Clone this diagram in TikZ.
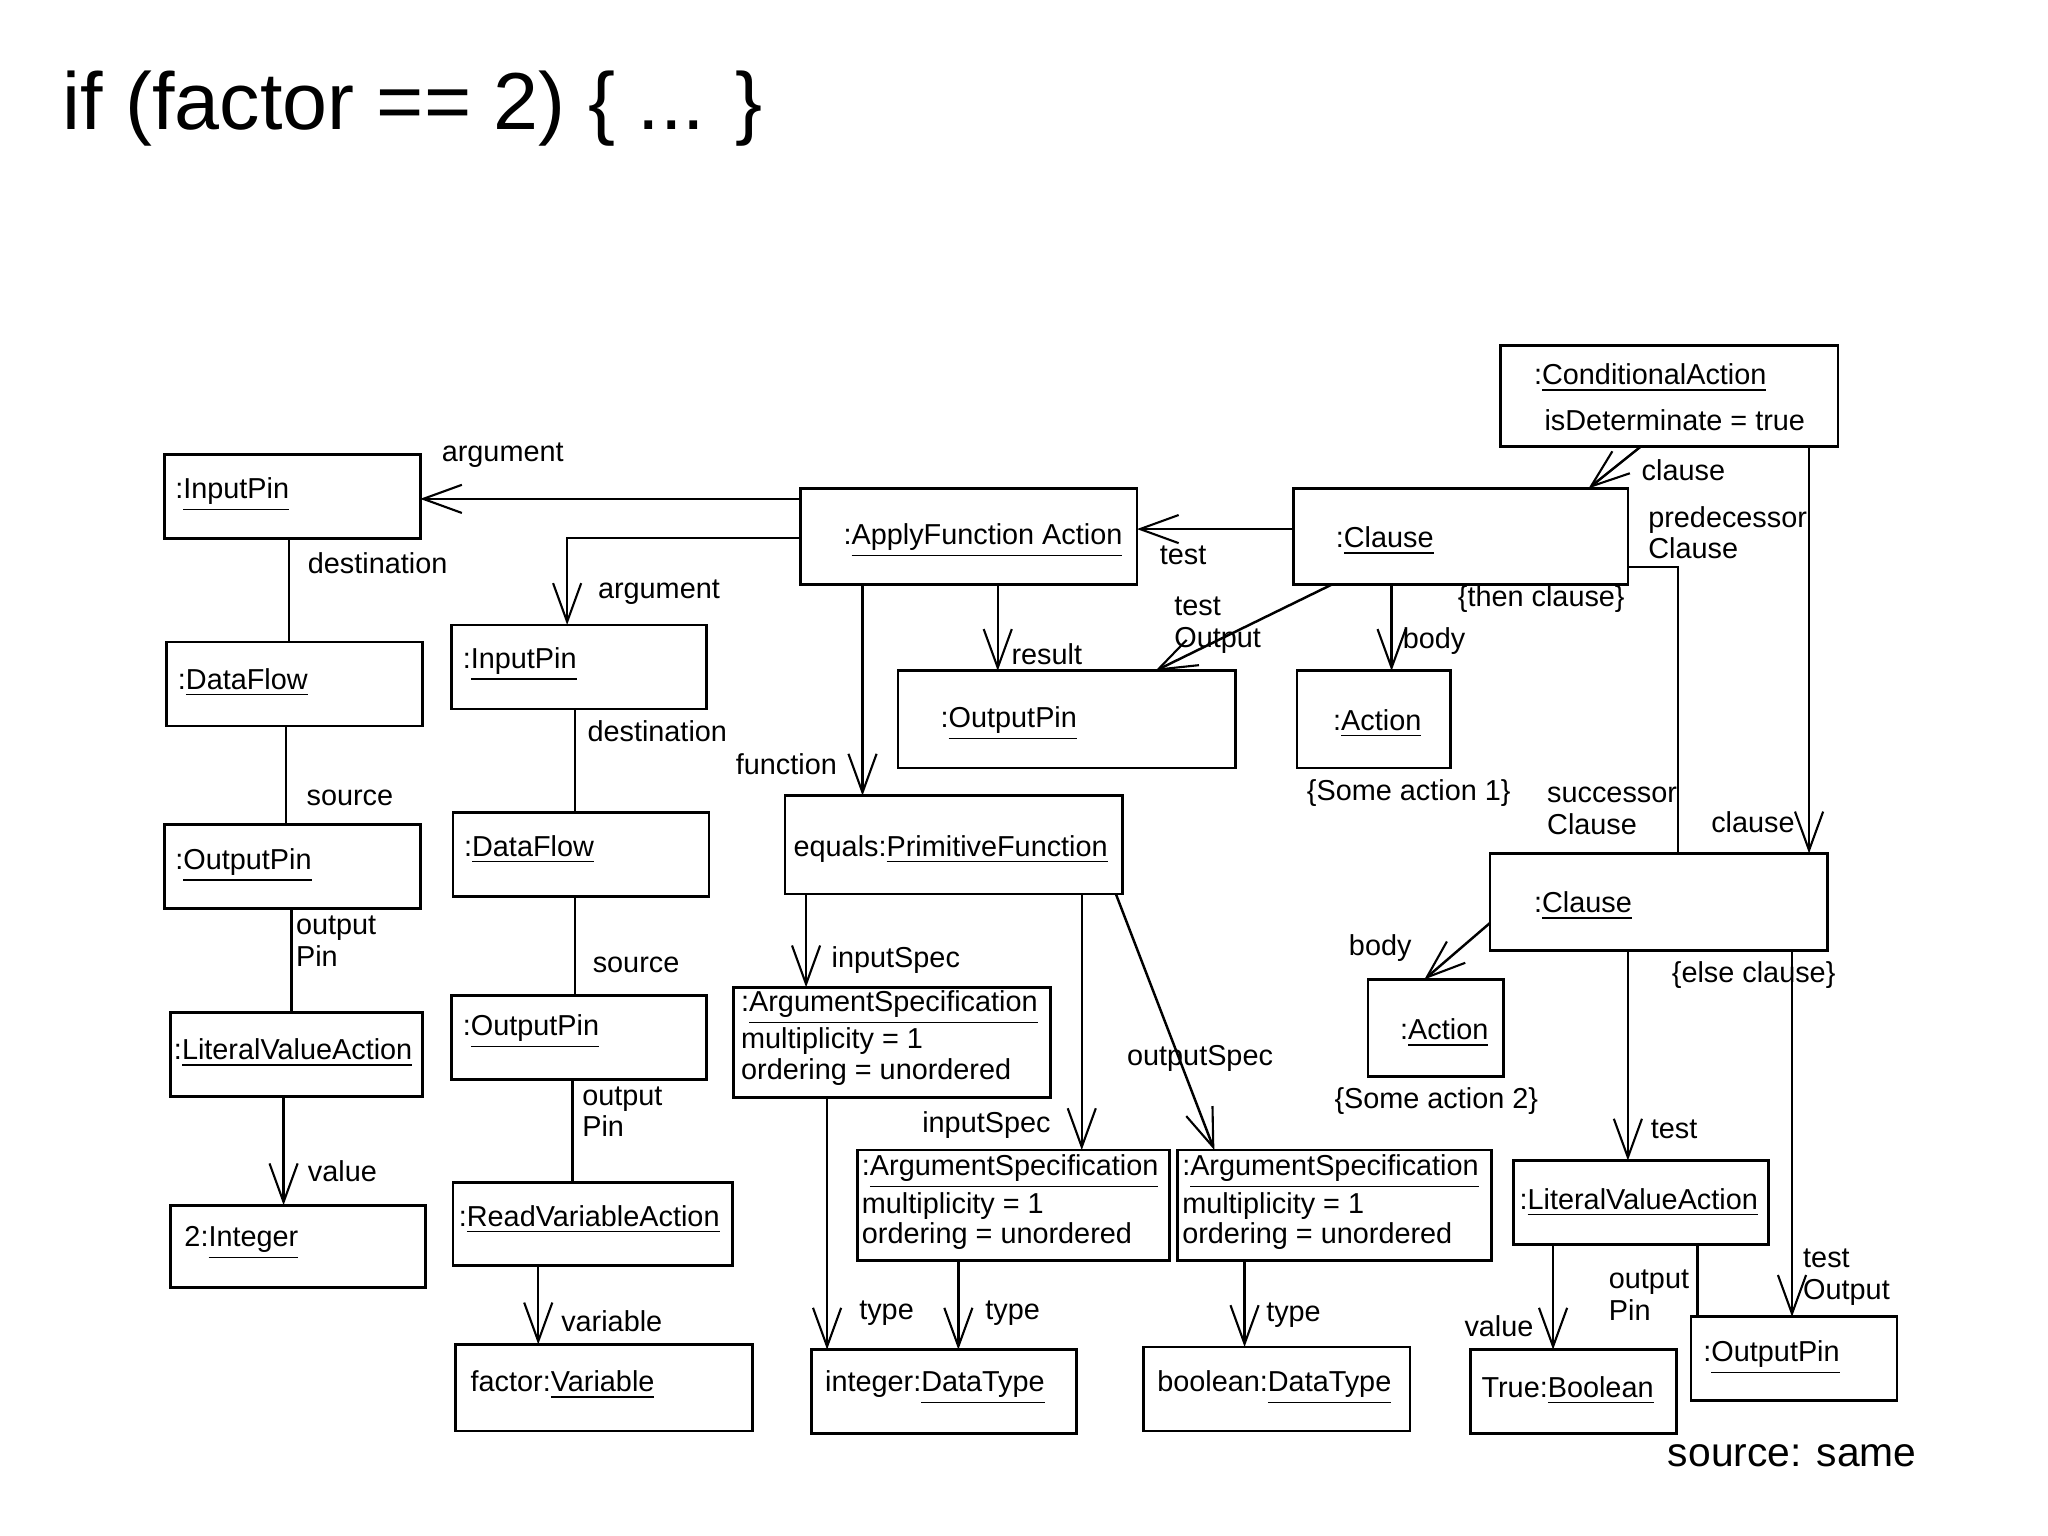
\documentclass[tikz,border=0pt]{standalone}
\usepackage{fontspec}
\setmainfont{Liberation Sans}
\usetikzlibrary{arrows.meta}
\newcommand{\ul}[1]{\underline{#1}}
\begin{document}
\begin{tikzpicture}[x=0.013128cm,y=-0.013128cm,
  box/.style 2 args={draw,line width=0.8pt,anchor=north west,inner sep=0,outer sep=0,
     minimum width=#1*0.013128cm,minimum height=#2*0.013128cm},
  txt/.style={anchor=west,inner sep=0,font=\fontsize{8.2}{9}\selectfont},
  lbl/.style={anchor=west,inner sep=0,font=\fontsize{8.2}{9}\selectfont,align=left},
  ml/.style={anchor=north west,inner sep=0,font=\fontsize{8.2}{8.6}\selectfont,align=left},
  ln/.style={line width=0.7pt},
  ar/.style={line width=0.7pt,-{Straight Barb[length=11pt,width=8pt,line width=0.6pt]}}]
\useasboundingbox (0,0) rectangle (1560,1170);
\node[anchor=west,inner sep=0,font=\fontsize{23}{26}\selectfont] (title) at (47,83) {if (factor == 2) \{ ... \}};
\node[anchor=west,inner sep=0,font=\fontsize{11.6}{13}\selectfont] (src) at (1270,1109) {source: same};
% boxes
\node[box={257}{77}] (cond) at (1143,263) {};
\node[txt] at (1168,288) {:\ul{ConditionalAction}};
\node[txt] at (1176,320) {isDeterminate = true};
\node[box={195}{64}] (ip1) at (125,346) {};
\node[txt] at (133,377) {:\ul{InputPin}};
\node[box={256}{73}] (apply) at (610,372) {};
\node[txt] at (642,412) {:\ul{ApplyFunction Action}};
\node[box={255}{73}] (cl1) at (985,372) {};
\node[txt] at (1017,412) {:\ul{Clause}};
\node[box={195}{64}] (df1) at (127,489) {};
\node[txt] at (135,520) {:\ul{DataFlow}};
\node[box={194}{64}] (ip2) at (344,476) {};
\node[txt] at (352,506) {:\ul{InputPin}};
\node[box={257}{74}] (opr) at (684,511) {};
\node[txt] at (716,551) {:\ul{OutputPin}};
\node[box={117}{74}] (act1) at (988,511) {};
\node[txt] at (1015,551) {:\ul{Action}};
\node[box={195}{64}] (op1) at (125,628) {};
\node[txt] at (133,659) {:\ul{OutputPin}};
\node[box={195}{64}] (df2) at (345,619) {};
\node[txt] at (353,647) {:\ul{DataFlow}};
\node[box={257}{75}] (eq) at (598,606) {};
\node[txt] at (604,647) {equals:\ul{PrimitiveFunction}};
\node[box={257}{74}] (cl2) at (1135,650) {};
\node[txt] at (1168,690) {:\ul{Clause}};
\node[box={192}{64}] (lva1) at (130,771) {};
\node[txt] at (132,802) {:\ul{LiteralValueAction}};
\node[box={194}{64}] (op2) at (344,758) {};
\node[txt] at (352,786) {:\ul{OutputPin}};
\node[box={241}{84}] (as1) at (559,752) {};
\node[ml] at (564,754) {:\ul{ArgumentSpecification}\\multiplicity = 1\\ordering = unordered};
\node[box={103}{74}] (act2) at (1042,746) {};
\node[txt] at (1066,787) {:\ul{Action}};
\node[box={238}{84}] (as2) at (653,876) {};
\node[ml] at (656,879) {:\ul{ArgumentSpecification}\\multiplicity = 1\\ordering = unordered};
\node[box={239}{84}] (as3) at (897,876) {};
\node[ml] at (900,879) {:\ul{ArgumentSpecification}\\multiplicity = 1\\ordering = unordered};
\node[box={194}{64}] (lva2) at (1153,884) {};
\node[txt] at (1157,916) {:\ul{LiteralValueAction}};
\node[box={194}{63}] (int) at (130,918) {};
\node[txt] at (140,947) {2:\ul{Integer}};
\node[box={213}{63}] (rva) at (345,901) {};
\node[txt] at (349,929) {:\ul{ReadVariableAction}};
\node[box={226}{66}] (var) at (347,1024) {};
\node[txt] at (358,1055) {factor:\ul{Variable}};
\node[box={202}{64}] (idt) at (618,1028) {};
\node[txt] at (628,1057) {integer:\ul{DataType}};
\node[box={203}{64}] (bdt) at (871,1026) {};
\node[txt] at (881,1057) {boolean:\ul{DataType}};
\node[box={157}{64}] (tb) at (1120,1028) {};
\node[txt] at (1128,1059) {True:\ul{Boolean}};
\node[box={157}{64}] (op3) at (1288,1003) {};
\node[txt] at (1297,1034) {:\ul{OutputPin}};
% connectors
\draw[ar] (apply.west |- 0,380) -- (ip1.east |- 0,380);
\node[lbl] at (336,347) {argument};
\draw[ar] (apply.west |- 0,410) -| (432,0 |- ip2.north);
\node[lbl] at (455,451) {argument};
\draw[ln] (220,0 |- ip1.south) -- (220,0 |- df1.north);
\node[lbl] at (234,429) {destination};
\draw[ln] (218,0 |- df1.south) -- (218,0 |- op1.north);
\node[lbl] at (233,608) {source};
\draw[ln] (222,0 |- op1.south) -- (222,0 |- lva1.north);
\node[lbl,anchor=north west] at (225,697) {output\\Pin};
\draw[ar] (216,0 |- lva1.south) -- (216,0 |- int.north);
\node[lbl] at (234,892) {value};
\draw[ln] (438,0 |- ip2.south) -- (438,0 |- df2.north);
\node[lbl] at (447,557) {destination};
\draw[ln] (438,0 |- df2.south) -- (438,0 |- op2.north);
\node[lbl] at (451,735) {source};
\draw[ln] (436,0 |- op2.south) -- (436,0 |- rva.north);
\node[lbl,anchor=north west] at (443,827) {output\\Pin};
\draw[ar] (410,0 |- rva.south) -- (410,0 |- var.north);
\node[lbl] at (427,1006) {variable};
\draw[ar] (657,0 |- apply.south) -- (657,0 |- eq.north);
\node[lbl] at (560,582) {function};
\draw[ar] (760,0 |- apply.south) -- (760,0 |- opr.north);
\node[lbl] at (770,498) {result};
\draw[ar] (cl1.west |- 0,403) -- (apply.east |- 0,403);
\node[lbl] at (883,423) {test};
\draw[ar] (1015,0 |- cl1.south) -- (880,0 |- opr.north);
\node[lbl,anchor=north west] at (894,454) {test\\Output};
\draw[ar] (1060,0 |- cl1.south) -- (1060,0 |- act1.north);
\node[lbl] at (1068,488) {body};
\node[lbl] at (1110,456) {\{then clause\}};
\node[lbl] at (995,604) {\{Some action 1\}};
\draw[ar] (1250,0 |- cond.south) -- (1210,0 |- cl1.north);
\node[lbl] at (1250,358) {clause};
\draw[ar] (1378,0 |- cond.south) -- (1378,0 |- cl2.north);
\node[lbl] at (1303,626) {clause};
\draw[ln] (cl1.east |- 0,432) -| (1278,0 |- cl2.north);
\node[lbl,anchor=north west] at (1255,385) {predecessor\\Clause};
\node[lbl,anchor=north west] at (1178,599) {successor\\Clause};
\draw[ar] (614,0 |- eq.south) -- (614,0 |- as1.north);
\node[lbl] at (633,731) {inputSpec};
\draw[ar] (824,0 |- eq.south) -- (824,0 |- as2.north);
\node[lbl] at (702,857) {inputSpec};
\draw[ar] (850,0 |- eq.south) -- (925,0 |- as3.north);
\node[lbl] at (858,806) {outputSpec};
\draw[ar] (630,0 |- as1.south) -- (630,0 |- idt.north);
\node[lbl] at (654,1000) {type};
\draw[ar] (730,0 |- as2.south) -- (730,0 |- idt.north);
\node[lbl] at (750,1000) {type};
\draw[ar] (948,0 |- as3.south) -- (948,0 |- bdt.north);
\node[lbl] at (964,1002) {type};
\draw[ar] (cl2.west |- 0,703) -- (1085,0 |- act2.north);
\node[lbl] at (1027,722) {body};
\node[lbl] at (1016,839) {\{Some action 2\}};
\node[lbl] at (1273,743) {\{else clause\}};
\draw[ar] (1240,0 |- cl2.south) -- (1240,0 |- lva2.north);
\node[lbl] at (1257,860) {test};
\draw[ar] (1183,0 |- lva2.south) -- (1183,0 |- tb.north);
\node[lbl] at (1115,1010) {value};
\draw[ln] (1293,0 |- lva2.south) -- (1293,0 |- op3.north);
\node[lbl,anchor=north west] at (1225,967) {output\\Pin};
\draw[ar] (1365,0 |- cl2.south) -- (1365,0 |- op3.north);
\node[lbl,anchor=north west] at (1373,951) {test\\Output};
\end{tikzpicture}
\end{document}
